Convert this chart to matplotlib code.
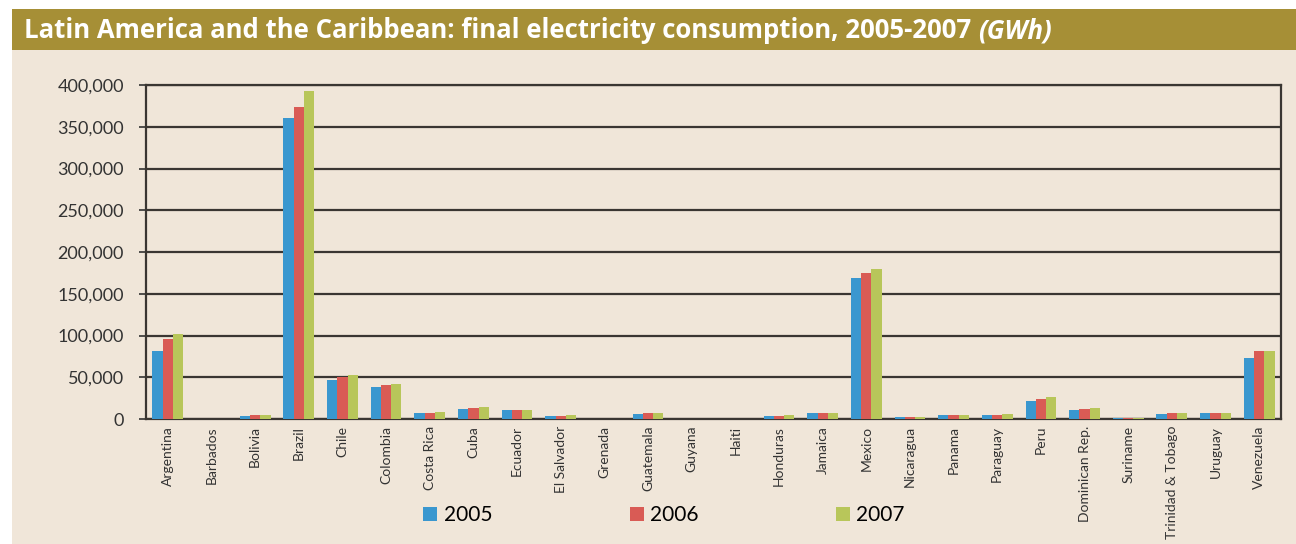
import numpy as np
import matplotlib.pyplot as plt
from matplotlib.patches import Rectangle
from matplotlib.ticker import FuncFormatter

# Datos (GWh)
paises = ['Argentina', 'Barbados', 'Bolivia', 'Brazil', 'Chile', 'Colombia',
          'Costa Rica', 'Cuba', 'Ecuador', 'El Salvador', 'Grenada', 'Guatemala',
          'Guyana', 'Haiti', 'Honduras', 'Jamaica', 'Mexico', 'Nicaragua',
          'Panama', 'Paraguay', 'Peru', 'Dominican Rep.', 'Suriname',
          'Trinidad & Tobago', 'Uruguay', 'Venezuela']
v2005 = [81400, 0, 3600, 360500, 46700, 38300, 7200, 12000, 10800, 3600, 0, 6000,
         0, 0, 3600, 7200, 168900, 2400, 4800, 4800, 21600, 10800, 1200, 6000,
         7200, 73000]
v2006 = [95800, 0, 4800, 373700, 50000, 40700, 7200, 13200, 10800, 3600, 0, 7200,
         0, 0, 3600, 7200, 174900, 2400, 4800, 4800, 24000, 12000, 1200, 7200,
         7200, 81400]
v2007 = [101800, 0, 4800, 392900, 52700, 41900, 8400, 14400, 10800, 4800, 0, 7200,
         0, 0, 4800, 7200, 179600, 2400, 4800, 6000, 26400, 13200, 1200, 7200,
         7200, 81400]
anios = ['2005', '2006', '2007']
colores = ['#3A97CF', '#D95B55', '#B8C65A']

fondo = '#F0E6D9'
oliva = '#A68F36'
fuente = 'Lato'

fig = plt.figure(figsize=(12.96, 5.44), dpi=100)
fig.patch.set_facecolor('white')

# Banda del título y fondo beige
fig.patches.append(Rectangle((12/1296, 0), 1, 494/544, transform=fig.transFigure,
                             facecolor=fondo, edgecolor='none', zorder=-2))
fig.patches.append(Rectangle((12/1296, 494/544), 1, 41/544, transform=fig.transFigure,
                             facecolor=oliva, edgecolor='none', zorder=-2))

t1 = fig.text(24/1296, 1 - 31/544, 'Latin America and the Caribbean: final electricity consumption, 2005-2007 ',
              color='white', fontsize=18.5, fontweight='bold', family='Open Sans', va='center')
fig.canvas.draw()
bb = t1.get_window_extent()
fig.text(bb.x1/1296, 1 - 31/544, '(GWh)', color='white', fontsize=18.5,
         fontweight='bold', fontstyle='italic', family='Open Sans', va='center')

ax = fig.add_axes([146/1296, 125/544, (1281-146)/1296, (419-85)/544])
ax.set_facecolor(fondo)

x = np.arange(len(paises))
w = 0.235
for i, (serie, c, lab) in enumerate(zip([v2005, v2006, v2007], colores, anios)):
    ax.bar(x + (i - 1) * w, serie, width=w, color=c, label=lab, zorder=3)

ax.set_ylim(0, 400000)
ax.set_xlim(-0.5, len(paises) - 0.5)
ax.set_yticks(np.arange(0, 400001, 50000))
ax.yaxis.set_major_formatter(FuncFormatter(lambda v, p: f'{int(v):,}'))
ax.grid(axis='y', color='#3a3632', lw=1.6, zorder=1)
ax.set_xticks(x)
ax.set_xticklabels(paises, rotation=90, fontsize=10, family=fuente, color='#333333')
ax.tick_params(axis='x', length=0, pad=5)
ax.tick_params(axis='y', length=5, width=1.2, color='#333333', labelsize=13,
               labelcolor='#333333', pad=11)
for lbl in ax.get_yticklabels():
    lbl.set_family(fuente)
for s in ax.spines.values():
    s.set_color('#3a3632')
    s.set_linewidth(1.6)

fig.legend(loc='center', bbox_to_anchor=(664/1296, 29/544), ncol=3, frameon=False,
           prop={'family': fuente, 'size': 15}, handlelength=0.68, handleheight=0.68,
           handletextpad=0.3, columnspacing=6.6)

fig.savefig('out.png', dpi=100)
